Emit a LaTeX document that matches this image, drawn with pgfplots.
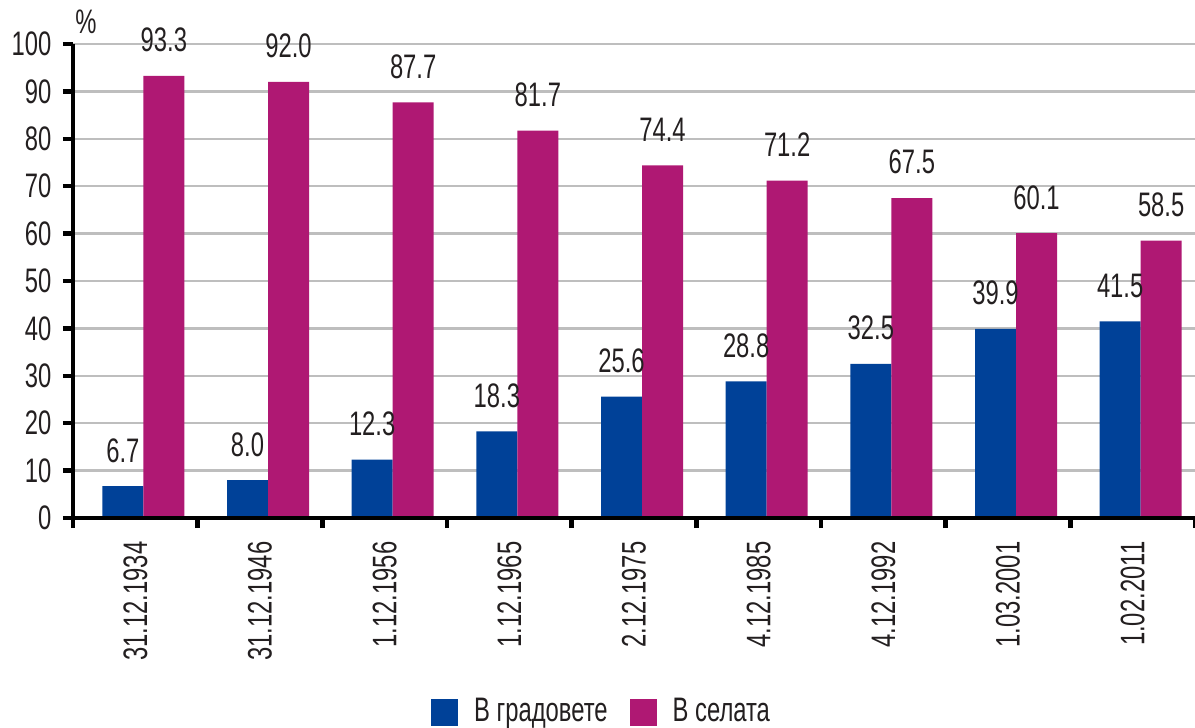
\documentclass[border=0pt]{standalone}
\usepackage{pgfplots}
\pgfplotsset{compat=1.18}
\usepackage{fontspec}
\setmainfont{Liberation Sans}[FakeStretch=0.7]
\definecolor{cityblue}{RGB}{0,65,152}
\definecolor{villmag}{RGB}{175,24,115}
\definecolor{txt}{RGB}{35,31,32}
\definecolor{gridgray}{RGB}{190,190,190}
\begin{document}
\fontsize{17}{19}\selectfont
\begin{tikzpicture}
\begin{axis}[
  name=ax,
  scale only axis,
  width=561pt, height=237pt,
  ybar=0pt, bar width=20.5pt,
  xmin=-0.5, xmax=8.5,
  ymin=0, ymax=100,
  ytick={0,10,...,100},
  xtick={0,...,8},
  xticklabels={31.12.1934,31.12.1946,1.12.1956,1.12.1965,2.12.1975,4.12.1985,4.12.1992,1.03.2001,1.02.2011},
  minor xtick={-0.5,0.5,...,8.5},
  major x tick style={draw=none},
  tick align=outside,
  major tick length=5pt, minor tick length=5pt,
  tick style={line width=2.2pt, black},
  axis line style={line width=2.2pt, black},
  axis x line*=bottom, axis y line*=left,
  ymajorgrids, grid style={gridgray, line width=1.2pt},
  x tick label style={rotate=90, anchor=east, text=txt},
  xticklabel shift=1pt,
  y tick label style={text=txt},
  /pgf/number format/assume math mode=true,
  nodes near coords={\pgfmathprintnumber[fixed,fixed zerofill,precision=1]{\pgfplotspointmeta}},
  every node near coord/.append style={text=txt, yshift=6pt},
  legend style={at={(0.472,-0.41)}, anchor=center, draw=none, fill=none,
    legend columns=2, text=txt,
    /tikz/every odd column/.append style={column sep=6pt},
    /tikz/every even column/.append style={column sep=9pt}},
  legend image code/.code={\fill[#1] (0pt,-6.75pt) rectangle (13.5pt,6.75pt);},
]
\addplot[fill=cityblue, draw=none, bar shift=-6.25pt] coordinates {(0,6.7) (1,8.0) (2,12.3) (3,18.3) (4,25.6) (5,28.8) (6,32.5) (7,39.9) (8,41.5)};
\addplot[fill=villmag, draw=none, bar shift=14.25pt] coordinates {(0,93.3) (1,92.0) (2,87.7) (3,81.7) (4,74.4) (5,71.2) (6,67.5) (7,60.1) (8,58.5)};
\legend{В градовете, В селата}
\draw[line width=2.2pt, black] (rel axis cs:0,0) -- (rel axis cs:1,0);
\end{axis}
\node[text=txt] at ([xshift=6.5pt,yshift=11pt]ax.north west) {\%};
\pgfresetboundingbox
\path[use as bounding box] ([shift={(-36.5pt,-104.5pt)}]ax.south west) rectangle ([shift={(0pt,22pt)}]ax.north east);
\end{tikzpicture}
\end{document}
